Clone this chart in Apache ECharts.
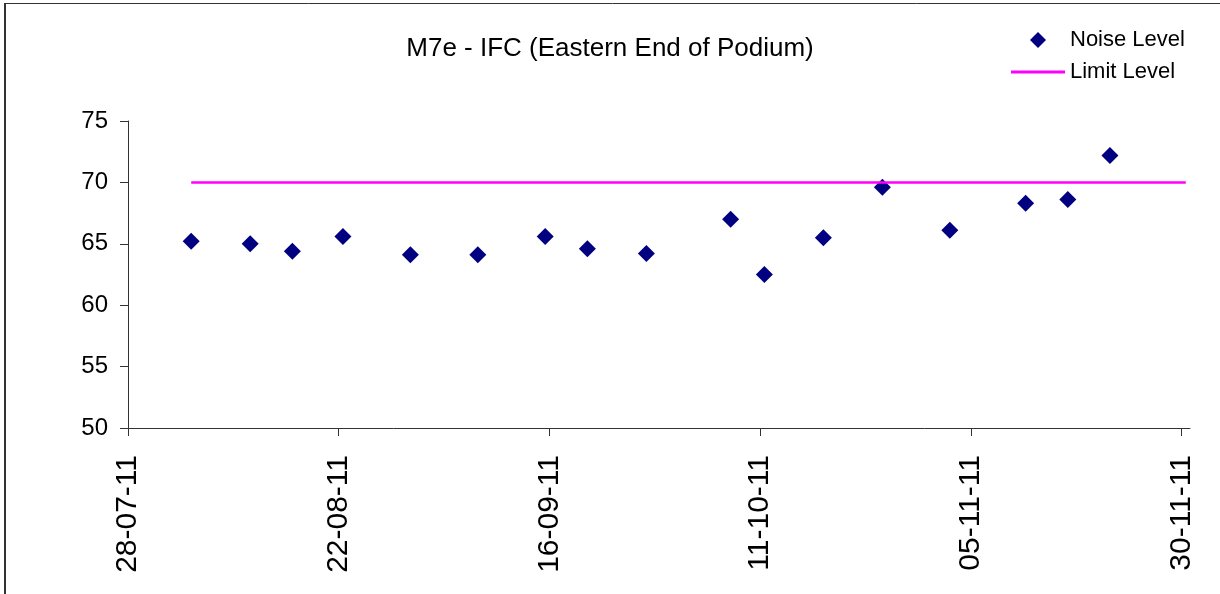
<!DOCTYPE html>
<html>
<head>
<meta charset="utf-8">
<title>M7e - IFC (Eastern End of Podium)</title>
<script src="https://cdn.jsdelivr.net/npm/echarts@6/dist/echarts.min.js"></script>
<style>
  html, body { margin: 0; padding: 0; background: #fff; }
  #chart { width: 1220px; height: 594px; }
</style>
</head>
<body>
<div id="chart"></div>
<script>
const axisStart = '2011-07-28';
const axisEnd = '2011-12-01';
const tickDates = ['2011-07-28', '2011-08-22', '2011-09-16', '2011-10-11', '2011-11-05', '2011-11-30'];

const noiseDates = [
  '2011-08-04', '2011-08-11', '2011-08-16', '2011-08-22', '2011-08-30', '2011-09-07',
  '2011-09-15', '2011-09-20', '2011-09-27', '2011-10-07', '2011-10-11', '2011-10-18',
  '2011-10-25', '2011-11-02', '2011-11-11', '2011-11-16', '2011-11-21'
];
const noiseLevels = [
  65.2, 65.0, 64.4, 65.6, 64.1, 64.1,
  65.6, 64.6, 64.2, 67.0, 62.5, 65.5,
  69.6, 66.1, 68.3, 68.6, 72.2
];

const limitDates = ['2011-08-04', '2011-11-30'];
const limitLevels = [70, 70];

const yTicks = [50, 55, 60, 65, 70, 75];

const fontFamily = '"Liberation Sans", Arial, sans-serif';
const dayMs = 86400000;

// days since the start of the axis
function dayIndex(dateStr) {
  return (Date.parse(dateStr) - Date.parse(axisStart)) / dayMs;
}

// date axis: a value is plotted in the middle of its day
function toPoints(dates, values) {
  return dates.map((d, i) => [dayIndex(d) + 0.5, values[i]]);
}

function formatDay(value) {
  const d = new Date(Date.parse(axisStart) + Math.round(value) * dayMs);
  const pad = (n) => String(n).padStart(2, '0');
  return pad(d.getUTCDate()) + '-' + pad(d.getUTCMonth() + 1) + '-' + pad(d.getUTCFullYear() % 100);
}

const tickDays = tickDates.map(dayIndex);

const option = {
  backgroundColor: '#fff',
  animation: false,
  title: {
    text: 'M7e - IFC (Eastern End of Podium)',
    left: 'center',
    top: 36,
    padding: 0,
    textStyle: { fontFamily, fontSize: 26, fontWeight: 'normal', color: '#000' },
  },
  legend: {
    orient: 'vertical',
    left: 1011,
    top: 29,
    padding: 0,
    itemWidth: 54,
    itemHeight: 16,
    itemGap: 10,
    symbolKeepAspect: true,
    textStyle: { fontFamily, fontSize: 22, color: '#000' },
    data: [
      { name: 'Noise Level', icon: 'path://M0,-1L1,0L0,1L-1,0Z' },
      // a thin bar, so the line entry shows no marker
      { name: 'Limit Level', icon: 'path://M0,0L54,0L54,3L0,3Z' },
    ],
  },
  graphic: [
    { type: 'line', shape: { x1: 5, y1: 3, x2: 5, y2: 600 }, style: { stroke: '#333', lineWidth: 2 } },
    { type: 'line', shape: { x1: 4, y1: 3.5, x2: 1230, y2: 3.5 }, style: { stroke: '#333', lineWidth: 1 } },
  ],
  grid: { left: 128, right: 30, top: 121, bottom: 166 },
  xAxis: {
    type: 'value',
    min: 0,
    max: dayIndex(axisEnd),
    splitLine: { show: false },
    axisLine: { onZero: false, lineStyle: { color: '#333', width: 1 } },
    axisTick: { customValues: tickDays, length: 8, lineStyle: { color: '#333' } },
    axisLabel: {
      customValues: tickDays,
      rotate: 90,
      margin: 27,
      fontFamily,
      fontSize: 30,
      color: '#000',
      formatter: formatDay,
    },
  },
  yAxis: {
    type: 'value',
    min: yTicks[0],
    max: yTicks[yTicks.length - 1],
    interval: 5,
    splitLine: { show: false },
    axisLine: { show: true, lineStyle: { color: '#333', width: 1 } },
    axisTick: { show: true, length: 8, lineStyle: { color: '#333' } },
    axisLabel: { margin: 20, fontFamily, fontSize: 24, color: '#000' },
  },
  series: [
    {
      name: 'Noise Level',
      type: 'scatter',
      symbol: 'diamond',
      symbolSize: 17,
      itemStyle: { color: '#000080', opacity: 1 },
      data: toPoints(noiseDates, noiseLevels),
    },
    {
      name: 'Limit Level',
      type: 'line',
      symbol: 'none',
      lineStyle: { color: '#ff00ff', width: 2.5 },
      itemStyle: { color: '#ff00ff' },
      data: toPoints(limitDates, limitLevels),
    },
  ],
};

const myChart = echarts.init(document.getElementById('chart'));
myChart.setOption(option);
</script>
</body>
</html>
